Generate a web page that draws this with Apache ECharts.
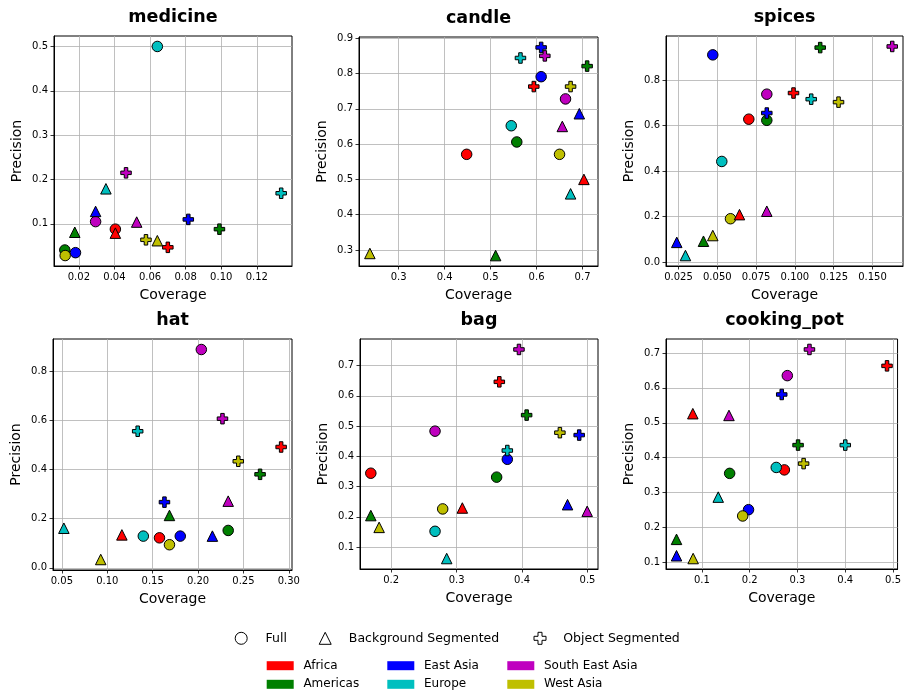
<!DOCTYPE html>
<html><head><meta charset="utf-8">
<script src="https://cdn.jsdelivr.net/npm/echarts@6/dist/echarts.min.js"></script>
<style>html,body{margin:0;padding:0;background:#fff}#c{width:904px;height:694px}</style>
</head><body><div id="c"></div>
<script>
// ---- categories ----
const regions = ['Africa', 'Americas', 'East Asia', 'Europe', 'South East Asia', 'West Asia'];
const typeNames = ['Full', 'Background Segmented', 'Object Segmented'];
const panelTitles = ['medicine', 'candle', 'spices', 'hat', 'bag', 'cooking_pot'];

// ---- values: [coverage, precision] per region (order as `regions`) ----
const medicineFull = [[0.0405,0.088],[0.0121,0.041],[0.0181,0.035],[0.0641,0.500],[0.0294,0.105],[0.0123,0.0285]];
const medicineBg   = [[0.0405,0.079],[0.0177,0.081],[0.0294,0.128],[0.0352,0.179],[0.0525,0.104],[0.0641,0.062]];
const medicineObj  = [[0.0700,0.047],[0.0990,0.088],[0.0815,0.110],[0.1337,0.169],[0.0465,0.215],[0.0577,0.064]];

const candleFull = [[0.448,0.571],[0.557,0.606],[0.610,0.791],[0.545,0.652],[0.663,0.728],[0.650,0.571]];
const candleBg   = [[0.703,0.500],[0.511,0.284],[0.693,0.686],[0.674,0.459],[0.656,0.650],[0.2375,0.290]];
const candleObj  = [[0.594,0.763],[0.710,0.821],[0.610,0.874],[0.565,0.844],[0.618,0.850],[0.674,0.763]];

const spicesFull = [[0.0703,0.628],[0.0819,0.623],[0.0471,0.911],[0.0529,0.442],[0.0819,0.738],[0.0585,0.190]];
const spicesBg   = [[0.0643,0.208],[0.0411,0.091],[0.0239,0.086],[0.0295,0.028],[0.0819,0.223],[0.0471,0.116]];
const spicesObj  = [[0.0991,0.743],[0.1163,0.943],[0.0819,0.655],[0.1105,0.716],[0.1627,0.948],[0.1281,0.703]];

const hatFull = [[0.1575,0.122],[0.2332,0.152],[0.1804,0.129],[0.1397,0.129],[0.2036,0.887],[0.1685,0.094]];
const hatBg   = [[0.1161,0.134],[0.1685,0.213],[0.2158,0.129],[0.0522,0.161],[0.2332,0.271],[0.0928,0.034]];
const hatObj  = [[0.2915,0.491],[0.2683,0.380],[0.1630,0.267],[0.1335,0.555],[0.2269,0.606],[0.2443,0.433]];

const bagFull = [[0.169,0.344],[0.3612,0.331],[0.3775,0.390],[0.2671,0.152],[0.2671,0.483],[0.2788,0.226]];
const bagBg   = [[0.3088,0.229],[0.169,0.204],[0.4695,0.240],[0.2849,0.062],[0.4995,0.218],[0.1817,0.165]];
const bagObj  = [[0.3653,0.646],[0.407,0.536],[0.4873,0.470],[0.3775,0.419],[0.3953,0.753],[0.4578,0.478]];

const potFull = [[0.2725,0.365],[0.158,0.355],[0.1975,0.251],[0.2555,0.372],[0.2787,0.635],[0.1853,0.233]];
const potBg   = [[0.0809,0.526],[0.0468,0.166],[0.0468,0.119],[0.1341,0.287],[0.1566,0.521],[0.0816,0.111]];
const potObj  = [[0.4874,0.663],[0.3012,0.436],[0.267,0.581],[0.400,0.436],[0.325,0.710],[0.3128,0.383]];

// ---- tick labels ----
const medicineXTicks = ['0.02','0.04','0.06','0.08','0.10','0.12'];
const medicineYTicks = ['0.1','0.2','0.3','0.4','0.5'];
const candleXTicks = ['0.3','0.4','0.5','0.6','0.7'];
const candleYTicks = ['0.3','0.4','0.5','0.6','0.7','0.8','0.9'];
const spicesXTicks = ['0.025','0.050','0.075','0.100','0.125','0.150'];
const spicesYTicks = ['0.0','0.2','0.4','0.6','0.8'];
const hatXTicks = ['0.05','0.10','0.15','0.20','0.25','0.30'];
const hatYTicks = ['0.0','0.2','0.4','0.6','0.8'];
const bagXTicks = ['0.2','0.3','0.4','0.5'];
const bagYTicks = ['0.1','0.2','0.3','0.4','0.5','0.6','0.7'];
const potXTicks = ['0.1','0.2','0.3','0.4','0.5'];
const potYTicks = ['0.1','0.2','0.3','0.4','0.5','0.6','0.7'];

// ---- assembly ----
const panelData = [
  [medicineFull, medicineBg, medicineObj],
  [candleFull, candleBg, candleObj],
  [spicesFull, spicesBg, spicesObj],
  [hatFull, hatBg, hatObj],
  [bagFull, bagBg, bagObj],
  [potFull, potBg, potObj]
];
const panelXTicks = [medicineXTicks, candleXTicks, spicesXTicks, hatXTicks, bagXTicks, potXTicks];
const panelYTicks = [medicineYTicks, candleYTicks, spicesYTicks, hatYTicks, bagYTicks, potYTicks];

const regionColors = ['#ff0000', '#008000', '#0000ff', '#00bfbf', '#bf00bf', '#bfbf00'];
const PLUS = 'path://M1,0H2V1H3V2H2V3H1V2H0V1H1Z';
const typeSymbols = ['circle', 'triangle', PLUS];
const typeSizes = [10.5, 10.5, 10.5];
const FONT = 'DejaVu Sans';

const gridBoxes = [
  {left: 54, top: 36, width: 238, height: 230},
  {left: 359, top: 37, width: 239, height: 229},
  {left: 666, top: 36, width: 237, height: 230},
  {left: 53, top: 339, width: 239, height: 231},
  {left: 360, top: 339, width: 238, height: 230},
  {left: 666, top: 339, width: 237, height: 230}
];

function padRange(pts, k) {
  const v = pts.map(p => p[k]);
  const lo = Math.min(...v), hi = Math.max(...v);
  const pad = (hi - lo) * 0.05;
  return [lo - pad, hi + pad];
}
function labelFormatter(labels) {
  return function (v) {
    const m = labels.find(l => Math.abs(Number(l) - v) < 1e-9);
    return m === undefined ? '' : m;
  };
}

const grids = [], xAxes = [], yAxes = [], titles = [], series = [];
panelData.forEach((sets, p) => {
  const all = sets[0].concat(sets[1], sets[2]);
  const xr = padRange(all, 0), yr = padRange(all, 1);
  const g = gridBoxes[p];
  grids.push(Object.assign({show: true, borderColor: '#000', borderWidth: 1, backgroundColor: 'transparent'}, g));
  titles.push({
    text: panelTitles[p], left: g.left + g.width / 2, top: g.top - 19,
    textAlign: 'center', textVerticalAlign: 'middle', padding: 0,
    textStyle: {fontSize: 17.5, fontWeight: 'bold', fontFamily: FONT, color: '#000'}
  });
  const xt = panelXTicks[p].map(Number), yt = panelYTicks[p].map(Number);
  const common = {
    type: 'value', gridIndex: p, nameLocation: 'middle',
    nameTextStyle: {fontSize: 14, fontFamily: FONT, color: '#000'},
    axisLine: {show: true, onZero: false, lineStyle: {color: '#000', width: 1}},
    splitLine: {show: true, lineStyle: {color: '#b0b0b0', width: 0.8}}
  };
  xAxes.push(Object.assign({}, common, {
    min: xr[0], max: xr[1], name: 'Coverage', nameGap: 22,
    axisTick: {show: true, length: 3.5, lineStyle: {color: '#000', width: 0.8}, customValues: xt},
    axisLabel: {customValues: xt, formatter: labelFormatter(panelXTicks[p]), fontSize: 10, fontFamily: FONT, color: '#000', margin: 6}
  }));
  yAxes.push(Object.assign({}, common, {
    min: yr[0], max: yr[1], name: 'Precision', nameGap: 30,
    axisTick: {show: true, length: 3.5, lineStyle: {color: '#000', width: 0.8}, customValues: yt},
    axisLabel: {customValues: yt, formatter: labelFormatter(panelYTicks[p]), fontSize: 10, fontFamily: FONT, color: '#000', margin: 6}
  }));
  sets.forEach((pts, t) => {
    series.push({
      type: 'scatter', name: typeNames[t], xAxisIndex: p, yAxisIndex: p,
      symbol: typeSymbols[t], symbolSize: typeSizes[t],
      itemStyle: {color: '#fff', borderColor: '#000', borderWidth: 1, opacity: 1},
      emphasis: {disabled: true}, silent: true,
      data: pts.map((pt, i) => ({value: pt, itemStyle: {color: regionColors[i], borderColor: '#000', borderWidth: 1, opacity: 1}}))
    });
  });
});
regions.forEach((r, i) => {
  series.push({type: 'scatter', name: r, xAxisIndex: 0, yAxisIndex: 0, data: [], itemStyle: {color: regionColors[i], opacity: 1}});
});

const legends = [];
const shapeLeft = [234.7, 318.7, 533.5];
const shapePad = [13.3, 12.6, 12.2];
typeNames.forEach((n, t) => {
  legends.push({
    orient: 'horizontal', left: shapeLeft[t], top: 631.3, padding: 0,
    itemWidth: 12, itemHeight: 12, selectedMode: false,
    data: [{name: n, icon: typeSymbols[t], itemStyle: {color: '#fff', borderColor: '#000', borderWidth: 1, opacity: 1}}],
    textStyle: {fontSize: 12.5, fontFamily: FONT, color: '#000', lineHeight: 14, padding: [0, 0, 0, shapePad[t]]}
  });
});
const colLeft = [266.7, 387.3, 507.3];
[0, 1, 2].forEach(c => {
  legends.push({
    orient: 'vertical', left: colLeft[c], top: 658.7, padding: 0,
    itemWidth: 27, itemHeight: 9, itemGap: 4.6, icon: 'rect', selectedMode: false,
    itemStyle: {opacity: 1},
    data: [regions[2 * c], regions[2 * c + 1]],
    textStyle: {fontSize: 12, fontFamily: FONT, color: '#000', lineHeight: 14, padding: [0, 0, 0, 4.7]}
  });
});

const chart = echarts.init(document.getElementById('c'), null, {renderer: 'canvas'});
chart.setOption({
  backgroundColor: '#fff',
  animation: false,
  title: titles,
  grid: grids,
  xAxis: xAxes,
  yAxis: yAxes,
  legend: legends,
  series: series
});
</script>
</body></html>
